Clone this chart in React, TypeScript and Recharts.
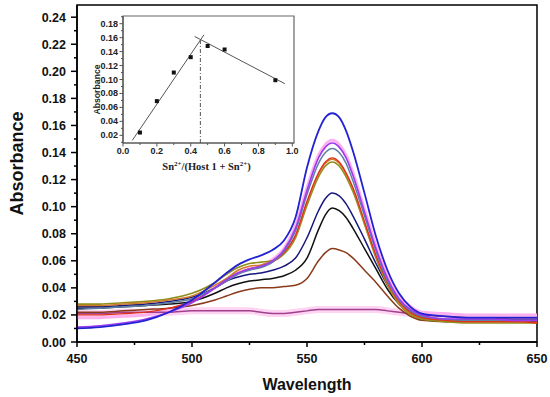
import {
  LineChart,
  Line,
  XAxis,
  YAxis,
  ComposedChart,
  Scatter,
  ReferenceArea,
} from "recharts";

// wavelength grid (nm) shared by all spectra
const wavelengths = [
  450, 460, 470, 480, 490, 500, 510, 515, 520, 525, 530, 535, 540, 545, 550, 555,
  558, 561, 564, 567, 570, 575, 580, 585, 590, 595, 600, 610, 620, 630, 640, 650,
];

const blue = [0.010, 0.011, 0.013, 0.016, 0.022, 0.031, 0.044, 0.051, 0.057, 0.061, 0.064, 0.068, 0.075, 0.092, 0.129, 0.156, 0.166, 0.169, 0.166, 0.156, 0.141, 0.110, 0.078, 0.053, 0.036, 0.026, 0.021, 0.019, 0.018, 0.018, 0.018, 0.018];
const violet = [0.011, 0.012, 0.014, 0.017, 0.022, 0.029, 0.040, 0.046, 0.051, 0.054, 0.056, 0.060, 0.068, 0.084, 0.112, 0.136, 0.144, 0.147, 0.144, 0.136, 0.123, 0.096, 0.069, 0.047, 0.032, 0.024, 0.020, 0.017, 0.017, 0.017, 0.016, 0.016];
const pink = [0.018, 0.018, 0.019, 0.020, 0.024, 0.030, 0.040, 0.046, 0.051, 0.054, 0.056, 0.061, 0.069, 0.086, 0.114, 0.138, 0.146, 0.149, 0.146, 0.138, 0.125, 0.098, 0.071, 0.049, 0.034, 0.026, 0.022, 0.021, 0.020, 0.020, 0.020, 0.020];
const teal = [0.024, 0.025, 0.026, 0.027, 0.029, 0.032, 0.040, 0.045, 0.050, 0.053, 0.055, 0.059, 0.067, 0.082, 0.109, 0.132, 0.140, 0.143, 0.140, 0.132, 0.119, 0.093, 0.067, 0.045, 0.031, 0.023, 0.019, 0.017, 0.016, 0.016, 0.016, 0.016];
const red = [0.020, 0.020, 0.021, 0.022, 0.025, 0.030, 0.040, 0.046, 0.051, 0.054, 0.056, 0.059, 0.066, 0.079, 0.104, 0.125, 0.133, 0.136, 0.133, 0.125, 0.114, 0.089, 0.064, 0.044, 0.030, 0.022, 0.018, 0.016, 0.015, 0.015, 0.015, 0.014];
const orange = [0.027, 0.027, 0.028, 0.029, 0.031, 0.034, 0.042, 0.047, 0.053, 0.056, 0.057, 0.060, 0.066, 0.078, 0.103, 0.124, 0.132, 0.135, 0.132, 0.124, 0.113, 0.088, 0.063, 0.043, 0.029, 0.021, 0.018, 0.016, 0.015, 0.015, 0.015, 0.014];
const olive = [0.028, 0.028, 0.029, 0.030, 0.032, 0.036, 0.044, 0.050, 0.055, 0.058, 0.059, 0.060, 0.065, 0.077, 0.101, 0.122, 0.130, 0.133, 0.130, 0.122, 0.111, 0.087, 0.062, 0.042, 0.028, 0.020, 0.017, 0.015, 0.014, 0.014, 0.014, 0.014];
const navy = [0.026, 0.026, 0.027, 0.028, 0.030, 0.033, 0.040, 0.045, 0.048, 0.050, 0.051, 0.053, 0.056, 0.062, 0.077, 0.097, 0.106, 0.110, 0.108, 0.102, 0.093, 0.076, 0.058, 0.042, 0.030, 0.022, 0.018, 0.016, 0.016, 0.016, 0.016, 0.016];
const black = [0.025, 0.025, 0.026, 0.027, 0.028, 0.030, 0.036, 0.040, 0.043, 0.045, 0.046, 0.047, 0.049, 0.053, 0.062, 0.083, 0.094, 0.099, 0.097, 0.092, 0.084, 0.069, 0.054, 0.039, 0.028, 0.021, 0.018, 0.016, 0.016, 0.016, 0.016, 0.016];
const brown = [0.022, 0.022, 0.023, 0.024, 0.025, 0.027, 0.031, 0.034, 0.037, 0.039, 0.040, 0.040, 0.041, 0.042, 0.047, 0.060, 0.066, 0.069, 0.068, 0.066, 0.062, 0.053, 0.044, 0.034, 0.025, 0.019, 0.016, 0.015, 0.015, 0.015, 0.015, 0.015];
const flat = [0.021, 0.021, 0.022, 0.022, 0.022, 0.023, 0.023, 0.023, 0.023, 0.023, 0.022, 0.021, 0.021, 0.022, 0.023, 0.024, 0.024, 0.024, 0.024, 0.024, 0.024, 0.024, 0.024, 0.023, 0.022, 0.021, 0.020, 0.019, 0.018, 0.018, 0.017, 0.017];

const xTicks = [450, 475, 500, 525, 550, 575, 600, 625, 650];
const yTicks = [
  0, 0.01, 0.02, 0.03, 0.04, 0.05, 0.06, 0.07, 0.08, 0.09, 0.1, 0.11, 0.12,
  0.13, 0.14, 0.15, 0.16, 0.17, 0.18, 0.19, 0.2, 0.21, 0.22, 0.23, 0.24,
];

// inset: job plot
const moleFraction = [0.1, 0.2, 0.3, 0.4, 0.5, 0.6, 0.9];
const insetAbs = [0.024, 0.069, 0.110, 0.132, 0.148, 0.143, 0.099];
const fitRise = [{ x: 0.055, y: 0.0128 }, { x: 0.478, y: 0.164 }];
const fitFall = [{ x: 0.423, y: 0.1617 }, { x: 0.956, y: 0.094 }];
const stoichLine = [{ x: 0.457, y: 0.009 }, { x: 0.457, y: 0.157 }];
const insetXTicks = [0, 0.1, 0.2, 0.3, 0.4, 0.5, 0.6, 0.7, 0.8, 0.9, 1.0];
const insetYTicks = [0.01, 0.02, 0.03, 0.04, 0.05, 0.06, 0.07, 0.08, 0.09, 0.1, 0.11, 0.12, 0.13, 0.14, 0.15, 0.16, 0.17, 0.18, 0.19];

const rows = wavelengths.map((w, i) => ({
  w,
  blue: blue[i],
  violet: violet[i],
  pink: pink[i],
  teal: teal[i],
  red: red[i],
  orange: orange[i],
  olive: olive[i],
  navy: navy[i],
  black: black[i],
  brown: brown[i],
  flat: flat[i],
}));
const insetPoints = moleFraction.map((x, i) => ({ x, y: insetAbs[i] }));

// drawing order: first is bottom
const SERIES = [
  { key: "flat", color: "#ffd4f2", width: 7 },
  { key: "pink", color: "#ffb0ee", width: 3 },
  { key: "flat", color: "#a0408e", width: 1.5 },
  { key: "brown", color: "#8a3a1a", width: 1.5 },
  { key: "black", color: "#111111", width: 1.5 },
  { key: "navy", color: "#17177e", width: 1.5 },
  { key: "olive", color: "#8e8e1c", width: 1.6 },
  { key: "orange", color: "#d07a2c", width: 1.5 },
  { key: "red", color: "#e0301e", width: 1.3 },
  { key: "teal", color: "#5f7fa6", width: 1.5 },
  { key: "violet", color: "#9a3cf0", width: 1.6 },
  { key: "blue", color: "#2222d2", width: 1.8 },
];

const SANS = "'Liberation Sans', Arial, sans-serif";

const MainXTick = ({ x, y, payload }: any) => {
  const v = payload.value;
  const major = v % 50 === 0;
  return (
    <g>
      <line x1={x} x2={x} y1={y} y2={y + (major ? 5 : 3)} stroke="#000" strokeWidth={1.5} />
      {major && (
        <text x={x} y={y + 21} textAnchor="middle" fontFamily={SANS} fontWeight="bold" fontSize={12.5} fill="#111">
          {v}
        </text>
      )}
    </g>
  );
};

const MainYTick = ({ x, y, payload }: any) => {
  const v = payload.value;
  const major = Math.round(v * 100) % 2 === 0;
  return (
    <g>
      <line x1={x} x2={x - (major ? 6 : 3)} y1={y} y2={y} stroke="#000" strokeWidth={1.5} />
      {major && (
        <text x={x - 11} y={y + 4.5} textAnchor="end" fontFamily={SANS} fontWeight="bold" fontSize={12.5} fill="#111">
          {v.toFixed(2)}
        </text>
      )}
    </g>
  );
};

const InsetXTick = ({ x, y, payload }: any) => {
  const v = payload.value;
  const major = Math.round(v * 10) % 2 === 0;
  return (
    <g>
      <line x1={x} x2={x} y1={y} y2={y + (major ? 3.5 : 2)} stroke="#555" strokeWidth={1} />
      {major && (
        <text x={x} y={y + 11} textAnchor="middle" fontFamily={SANS} fontWeight="bold" fontSize={9} fill="#222">
          {v.toFixed(1)}
        </text>
      )}
    </g>
  );
};

const InsetYTick = ({ x, y, payload }: any) => {
  const v = payload.value;
  const major = Math.round(v * 100) % 2 === 0;
  return (
    <g>
      <line x1={x} x2={x - (major ? 3.5 : 2)} y1={y} y2={y} stroke="#555" strokeWidth={1} />
      {major && (
        <text x={x - 5} y={y + 3} textAnchor="end" fontFamily={SANS} fontWeight="bold" fontSize={9} fill="#222">
          {v.toFixed(2)}
        </text>
      )}
    </g>
  );
};

export default function App() {
  return (
    <div style={{ position: "absolute", left: 0, top: 0, width: 550, height: 397, background: "#fff" }}>
      <LineChart width={550} height={397} data={rows} margin={{ top: 5, right: 13, bottom: 0, left: 0 }}>
        <XAxis
          dataKey="w"
          type="number"
          domain={[450, 650]}
          ticks={xTicks}
          interval={0}
          tickSize={0}
          tickMargin={0}
          tickLine={false}
          tick={<MainXTick />}
          height={55}
          axisLine={{ stroke: "#000", strokeWidth: 1.5 }}
          label={{
            content: ({ viewBox }: any) => (
              <text x={viewBox.x + viewBox.width / 2} y={viewBox.y + 48} textAnchor="middle" fontFamily={SANS} fontWeight="bold" fontSize={16} fill="#111">
                Wavelength
              </text>
            ),
          }}
        />
        <YAxis
          type="number"
          domain={[0, 0.249]}
          ticks={yTicks}
          interval={0}
          tickSize={0}
          tickMargin={0}
          tickLine={false}
          tick={<MainYTick />}
          width={77}
          axisLine={{ stroke: "#000", strokeWidth: 1.5 }}
          label={{
            content: ({ viewBox }: any) => {
              const cx = viewBox.x + 17;
              const cy = viewBox.y + viewBox.height / 2 - 10;
              return (
                <text x={cx} y={cy} transform={`rotate(-90 ${cx} ${cy})`} textAnchor="middle" dominantBaseline="central" fontFamily={SANS} fontWeight="bold" fontSize={18} fill="#111">
                  Absorbance
                </text>
              );
            },
          }}
        />
        <ReferenceArea x1={450} x2={650} y1={0} y2={0.249} fill="none" stroke="#000" strokeWidth={1.5} ifOverflow="visible" />
        {SERIES.map((s, i) => (
          <Line
            key={i}
            dataKey={s.key}
            type="monotone"
            stroke={s.color}
            strokeWidth={s.width}
            dot={false}
            isAnimationActive={false}
          />
        ))}
      </LineChart>

      {/* inset job plot */}
      <div style={{ position: "absolute", left: 60, top: 0, width: 250, height: 175 }}>
        <ComposedChart width={250} height={175} margin={{ top: 16, right: 16, bottom: 0, left: 0 }}>
          <XAxis
            dataKey="x"
            type="number"
            domain={[0, 1.01]}
            ticks={insetXTicks}
            interval={0}
            tickSize={0}
            tickMargin={0}
            tickLine={false}
            tick={<InsetXTick />}
            height={32}
            axisLine={{ stroke: "#555", strokeWidth: 1.2 }}
            label={{
              content: ({ viewBox }: any) => (
                <text x={viewBox.x + viewBox.width / 2 - 2} y={viewBox.y + 27} textAnchor="middle" fontFamily="'Liberation Serif', 'Times New Roman', serif" fontWeight="bold" fontSize={10.5} fill="#222">
                  Sn<tspan dy={-4} fontSize={7}>2+</tspan>
                  <tspan dy={4}>/(Host 1 + Sn</tspan>
                  <tspan dy={-4} fontSize={7}>2+</tspan>
                  <tspan dy={4}>)</tspan>
                </text>
              ),
            }}
          />
          <YAxis
            dataKey="y"
            type="number"
            domain={[0.009, 0.191]}
            ticks={insetYTicks}
            interval={0}
            tickSize={0}
            tickMargin={0}
            tickLine={false}
            tick={<InsetYTick />}
            width={63}
            axisLine={{ stroke: "#555", strokeWidth: 1.2 }}
            label={{
              content: ({ viewBox }: any) => {
                const cx = viewBox.x + 37;
                const cy = viewBox.y + viewBox.height / 2 + 10;
                return (
                  <text x={cx} y={cy} transform={`rotate(-90 ${cx} ${cy})`} textAnchor="middle" dominantBaseline="central" fontFamily={SANS} fontWeight="bold" fontSize={8.7} fill="#222">
                    Absorbance
                  </text>
                );
              },
            }}
          />
          <ReferenceArea x1={0} x2={1.01} y1={0.009} y2={0.191} fill="none" stroke="#666" strokeWidth={1.2} ifOverflow="visible" />
          <Line data={fitRise} dataKey="y" type="linear" stroke="#555" strokeWidth={1} dot={false} isAnimationActive={false} />
          <Line data={fitFall} dataKey="y" type="linear" stroke="#555" strokeWidth={1} dot={false} isAnimationActive={false} />
          <Line data={stoichLine} dataKey="y" type="linear" stroke="#555" strokeWidth={1} strokeDasharray="4 2 1 2" dot={false} isAnimationActive={false} />
          <Scatter
            data={insetPoints}
            dataKey="y"
            fill="#111"
            isAnimationActive={false}
            shape={(p: any) => <rect x={p.cx - 2} y={p.cy - 2} width={4} height={4} fill="#111" />}
          />
        </ComposedChart>
      </div>
    </div>
  );
}
